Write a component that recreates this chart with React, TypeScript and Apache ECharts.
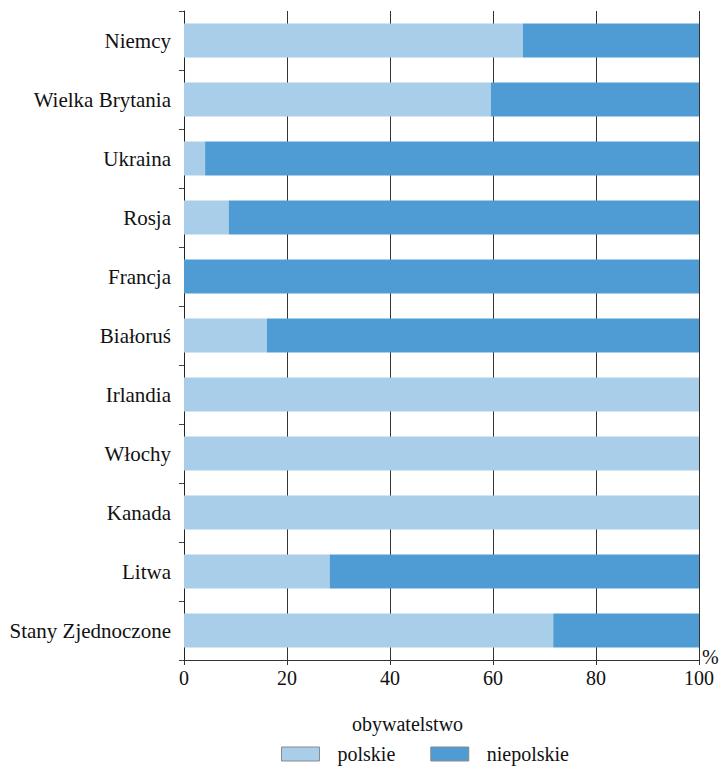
import React, { useEffect, useRef } from "react";
import * as echarts from "echarts";

const categories = [
  "Niemcy",
  "Wielka Brytania",
  "Ukraina",
  "Rosja",
  "Francja",
  "Białoruś",
  "Irlandia",
  "Włochy",
  "Kanada",
  "Litwa",
  "Stany Zjednoczone",
];
const polskie = [65.8, 59.6, 4.1, 8.7, 0, 16.1, 100, 100, 100, 28.3, 71.7];
const niepolskie = [34.2, 40.4, 95.9, 91.3, 100, 83.9, 0, 0, 0, 71.7, 28.3];
const seriesNames = ["polskie", "niepolskie"];
const legendTitle = "obywatelstwo";
const unit = "%";

const FONT = "Liberation Serif";
const FS = 20;
const LIGHT = "#a9cee9";
const DARK = "#4f9bd4";

export default function App() {
  const ref = useRef<HTMLDivElement>(null);
  useEffect(() => {
    if (!ref.current) return;
    const chart = echarts.init(ref.current, undefined, { renderer: "svg" });
    chart.setOption({
      animation: false,
      textStyle: { fontFamily: FONT },
      grid: { left: 184, right: 23, top: 11, bottom: 111, containLabel: false, outerBoundsMode: "none" },
      xAxis: {
        type: "value",
        min: 0,
        max: 100,
        interval: 20,
        axisLine: { show: true, lineStyle: { color: "#333", width: 1 } },
        axisTick: { show: true, length: 5, lineStyle: { color: "#333" } },
        axisLabel: { fontFamily: FONT, fontSize: FS, color: "#111", margin: 8 },
        splitLine: { show: true, lineStyle: { color: "#333", width: 1 } },
      },
      yAxis: {
        type: "category",
        data: categories,
        inverse: true,
        axisLine: { show: true, lineStyle: { color: "#222", width: 1 } },
        axisTick: { show: true, length: 5, lineStyle: { color: "#444" } },
        axisLabel: { fontFamily: FONT, fontSize: 21, color: "#111", margin: 13 },
        splitLine: { show: false },
      },
      legend: {
        bottom: 2,
        left: 276,
        icon: "rect",
        itemWidth: 38,
        itemHeight: 14,
        itemGap: 35,
        textStyle: { fontFamily: FONT, fontSize: FS, color: "#111", padding: [0, 0, 0, 13] },
        data: [
          { name: seriesNames[0], itemStyle: { color: LIGHT, borderColor: "#8a8a8a", borderWidth: 1 } },
          { name: seriesNames[1], itemStyle: { color: DARK, borderColor: "#8a8a8a", borderWidth: 1 } },
        ],
      },
      graphic: [
        {
          type: "text",
          left: 352,
          top: 714,
          style: { text: legendTitle, fontFamily: FONT, fontSize: FS, fill: "#111" },
        },
        {
          type: "text",
          left: 702,
          top: 647,
          style: { text: unit, fontFamily: FONT, fontSize: FS, fill: "#111" },
        },
      ],
      series: [
        {
          name: seriesNames[0],
          type: "bar",
          stack: "total",
          data: polskie,
          barWidth: 34,
          itemStyle: { color: LIGHT },
        },
        {
          name: seriesNames[1],
          type: "bar",
          stack: "total",
          data: niepolskie,
          barWidth: 34,
          itemStyle: { color: DARK },
        },
      ],
    });
    return () => chart.dispose();
  }, []);
  return <div ref={ref} style={{ width: 722, height: 771, position: "absolute", left: 0, top: 0 }} />;
}
